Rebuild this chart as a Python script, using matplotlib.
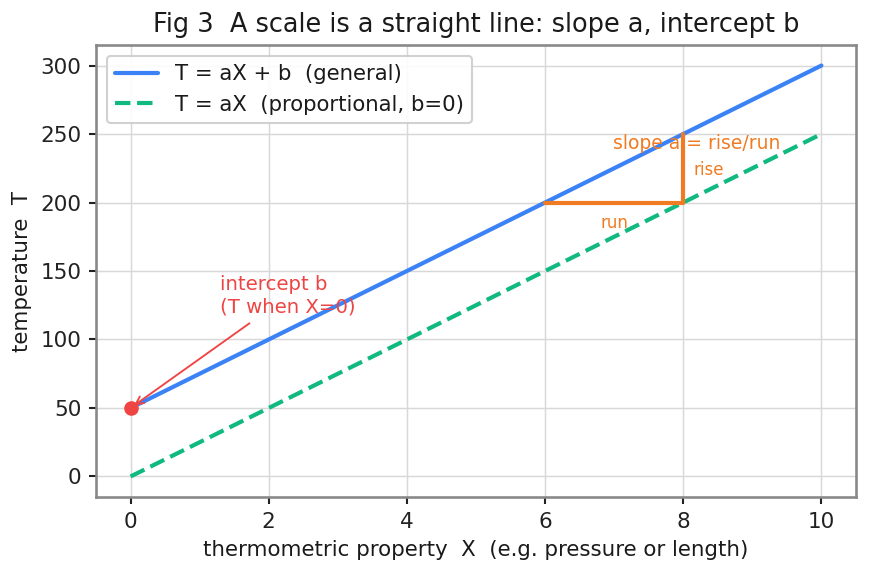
import numpy as np
import matplotlib
matplotlib.use('Agg')
import matplotlib.pyplot as plt
import seaborn as sns

# scale parameters
a = 25
b = 50
X = [0, 10]
T_general = [a * x + b for x in X]
T_prop = [a * x for x in X]

# slope triangle
run_x = [6, 8]
run_y = [200, 200]
rise_x = [8, 8]
rise_y = [200, 250]

sns.set_theme(style='whitegrid')
plt.rcParams['font.family'] = ['DejaVu Sans']
plt.rcParams['axes.edgecolor'] = '#888888'
plt.rcParams['grid.color'] = '#d8d8d8'
plt.rcParams['grid.linewidth'] = 0.7
plt.rcParams['text.color'] = '#1a1a1a'
plt.rcParams['axes.labelcolor'] = '#1a1a1a'
plt.rcParams['xtick.color'] = '#222222'
plt.rcParams['ytick.color'] = '#222222'
plt.rcParams['xtick.bottom'] = True
plt.rcParams['ytick.left'] = True

fig, ax = plt.subplots(figsize=(869 / 150, 573 / 150), dpi=150)
fig.subplots_adjust(left=0.1105, right=0.985, top=0.9215, bottom=0.1326)

ax.plot(X, T_general, color='#3b82f6', lw=2, label='T = aX + b  (general)')
ax.plot(X, T_prop, color='#10b981', lw=2, ls='--', label='T = aX  (proportional, b=0)')

ax.plot(run_x, run_y, color='#f07b22', lw=2)
ax.plot(rise_x, rise_y, color='#f07b22', lw=2)
ax.text(8.2, 243, 'slope a = rise/run', color='#f07b22', fontsize=9, ha='center', va='center')
ax.text(8.15, 224, 'rise', color='#f07b22', fontsize=8, ha='left', va='center')
ax.text(7.0, 185, 'run', color='#f07b22', fontsize=8, ha='center', va='center')

ax.plot([0], [b], 'o', color='#ef4444', ms=6, zorder=5)
ax.annotate('intercept b\n(T when X=0)', xy=(0, b), xytext=(1.3, 117),
            color='#ef4444', fontsize=9.5, ha='left', va='bottom',
            arrowprops=dict(arrowstyle='->', color='#ef4444', lw=0.9))

ax.set_title('Fig 3  A scale is a straight line: slope a, intercept b', fontsize=12.3)
ax.set_xlabel('thermometric property  X  (e.g. pressure or length)', fontsize=10.25)
ax.set_ylabel('temperature  T', fontsize=10.25)
ax.tick_params(labelsize=10.3, length=3.5, width=1)
ax.legend(loc='upper left', fontsize=10.2, framealpha=0.9, edgecolor='#cccccc')

plt.savefig('out.png')
